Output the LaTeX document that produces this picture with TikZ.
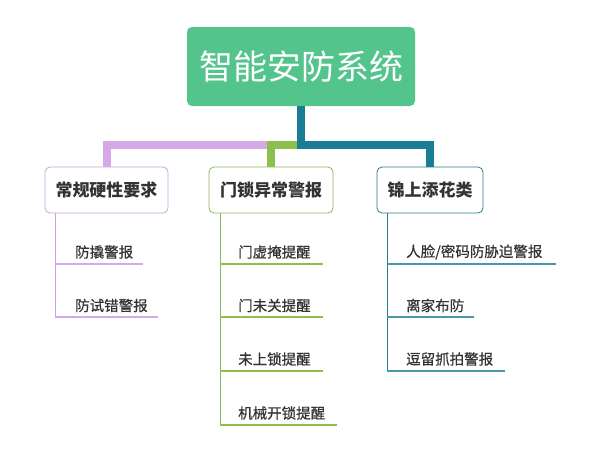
\documentclass[tikz,border=0pt]{standalone}
\usepackage{fontspec}
\setmainfont{Noto Sans CJK SC}
\newfontfamily\itemfont[FakeBold=0.6]{Noto Sans CJK SC}
\usetikzlibrary{positioning}
\definecolor{rootgreen}{HTML}{52C48C}
\definecolor{cpurple}{HTML}{D6A8E6}
\definecolor{cgreen}{HTML}{8CC04C}
\definecolor{cblue}{HTML}{1A7D96}
\definecolor{bpurple}{HTML}{C9A3D9}
\definecolor{bgreen}{HTML}{8DB85A}
\definecolor{bblue}{HTML}{2B7A8A}
\definecolor{txt}{HTML}{333333}
\tikzset{
  rootbox/.style={draw=none, fill=rootgreen, rounded corners=5pt, minimum width=228pt, minimum height=79pt, inner sep=0pt, text=white, font=\fontsize{34}{40}\selectfont},
  catbox/.style={fill=white, rounded corners=5pt, line width=0.8pt, minimum height=46pt, inner sep=0pt, text=txt, font=\fontsize{17}{20}\selectfont\bfseries},
  itemtxt/.style={anchor=west, inner sep=0pt, text=txt, font=\itemfont\fontsize{14.5}{17}\selectfont},
  thick conn/.style={line width=8pt},
  thin conn/.style={line width=1pt},
  under/.style={line width=1.5pt}
}
\begin{document}
\begin{tikzpicture}[x=1pt,y=-1pt]
\useasboundingbox (0,0) rectangle (595,461);
\fill[white] (0,0) rectangle (595,461);

% root
\node[rootbox] (root) at (301,66.5) {智能安防系统};
\coordinate (hub) at (301,145);

% categories
\node[catbox, draw=bpurple, minimum width=123pt] (c1) at (106.5,190) {常规硬性要求};
\node[catbox, draw=bgreen, minimum width=124pt] (c2) at (271,190) {门锁异常警报};
\node[catbox, draw=bblue, minimum width=106pt] (c3) at (430,190) {锦上添花类};

% thick connectors
\draw[thick conn, cpurple] (hub) -| (c1.north);
\draw[thick conn, cgreen] (hub) -| (c2.north);
\draw[thick conn, cblue] (root.south) -- (hub) -| (c3.north);

% ---- category 1 items
\coordinate (t1) at (55,213);
\coordinate (t1a) at (55,264);
\coordinate (t1b) at (55,317);
\node[itemtxt] (i1a) at (75,252) {防撬警报};
\node[itemtxt] (i1b) at (75,305.5) {防试错警报};
\coordinate (e1a) at (143,264);
\coordinate (e1b) at (158,317);
\draw[thin conn, bpurple] (t1) -- (t1b);
\draw[under, cpurple] (t1a) -- (e1a);
\draw[under, cpurple] (t1b) -- (e1b);

% ---- category 2 items
\coordinate (t2) at (220,213);
\coordinate (t2a) at (220,264);
\coordinate (t2b) at (220,317);
\coordinate (t2c) at (220,371);
\coordinate (t2d) at (220,425);
\node[itemtxt] (i2a) at (238,252) {门虚掩提醒};
\node[itemtxt] (i2b) at (238,305.5) {门未关提醒};
\node[itemtxt] (i2c) at (238,359) {未上锁提醒};
\node[itemtxt] (i2d) at (238,413) {机械开锁提醒};
\coordinate (e2a) at (323,264);
\coordinate (e2b) at (323,317);
\coordinate (e2c) at (323,371);
\coordinate (e2d) at (337,425);
\draw[thin conn, bgreen] (t2) -- (t2d);
\draw[under, cgreen] (t2a) -- (e2a);
\draw[under, cgreen] (t2b) -- (e2b);
\draw[under, cgreen] (t2c) -- (e2c);
\draw[under, cgreen] (t2d) -- (e2d);

% ---- category 3 items
\coordinate (t3) at (387,213);
\coordinate (t3a) at (387,264);
\coordinate (t3b) at (387,317);
\coordinate (t3c) at (387,371);
\node[itemtxt] (i3a) at (406,252) {人脸/密码防胁迫警报};
\node[itemtxt] (i3b) at (406,305.5) {离家布防};
\node[itemtxt] (i3c) at (406,359) {逗留抓拍警报};
\coordinate (e3a) at (556,264);
\coordinate (e3b) at (474,317);
\coordinate (e3c) at (505,371);
\draw[thin conn, bblue] (t3) -- (t3c);
\draw[under, cblue!80] (t3a) -- (e3a);
\draw[under, cblue!80] (t3b) -- (e3b);
\draw[under, cblue!80] (t3c) -- (e3c);
\end{tikzpicture}
\end{document}
